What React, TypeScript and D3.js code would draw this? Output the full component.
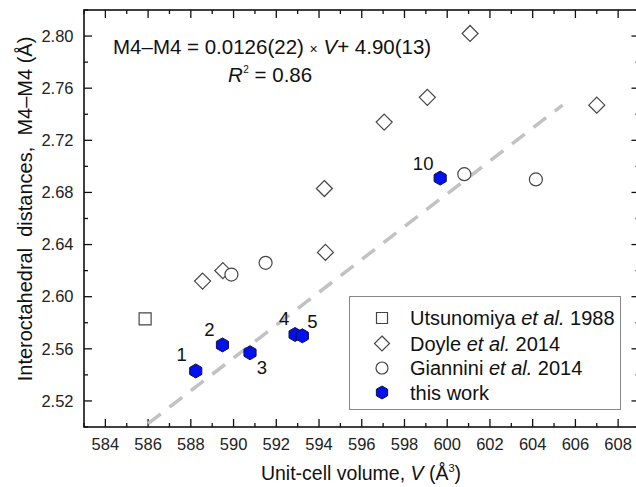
import React, { useEffect, useRef } from 'react';
import * as d3 from 'd3';

// data
const utsunomiyaV = [585.86];
const utsunomiyaD = [2.583];

const doyleV = [588.55, 589.5, 594.3, 594.25, 597.05, 599.07, 601.07, 607.0];
const doyleD = [2.612, 2.620, 2.634, 2.683, 2.734, 2.753, 2.802, 2.747];

const gianniniV = [589.9, 591.5, 600.8, 604.15];
const gianniniD = [2.617, 2.626, 2.694, 2.690];

const thisWorkV = [588.23, 589.48, 590.77, 592.88, 593.22, 599.67];
const thisWorkD = [2.543, 2.563, 2.557, 2.571, 2.570, 2.691];
const thisWorkLabels = ['1', '2', '3', '4', '5', '10'];
const labelOffsets = [[-14, -16], [-13, -15], [12, 15], [-11, -16], [10, -14], [-17, -15]];

// fitted line (dashed)
const fitSlope = 0.0126;
const fitIntercept = -4.881;
const fitRange = [586, 605.4];

const xTicks = d3.range(584, 609, 2);
const xMinor = d3.range(583, 610, 1);
const yTicks = [2.52, 2.56, 2.60, 2.64, 2.68, 2.72, 2.76, 2.80];
const yMinor = d3.range(2.50, 2.821, 0.02);

const FONT = '"Liberation Sans", Arial, sans-serif';

const App = () => {
  const svgRef = useRef(null);

  useEffect(() => {
    const svg = d3.select(svgRef.current);
    svg.selectAll('*').remove();

    const left = 84, right = 639.5, top = 10, bottom = 427;
    const x = d3.scaleLinear().domain([583, 609]).range([left, right]);
    const y = d3.scaleLinear().domain([2.5, 2.82]).range([bottom, top]);

    svg.append('rect')
      .attr('width', 636).attr('height', 487).attr('fill', '#fff');

    // ticks (inward, mirrored)
    const tickG = svg.append('g').attr('stroke', '#111').attr('stroke-width', 1.3);
    xMinor.forEach((v) => {
      const len = xTicks.includes(v) ? 8 : 4;
      tickG.append('line').attr('x1', x(v)).attr('x2', x(v)).attr('y1', bottom).attr('y2', bottom - len);
      tickG.append('line').attr('x1', x(v)).attr('x2', x(v)).attr('y1', top).attr('y2', top + len);
    });
    yMinor.forEach((v, i) => {
      const len = i % 2 === 1 ? 8 : 4;
      tickG.append('line').attr('y1', y(v)).attr('y2', y(v)).attr('x1', left).attr('x2', left + len);
      tickG.append('line').attr('y1', y(v)).attr('y2', y(v)).attr('x1', right).attr('x2', right - len);
    });

    // tick labels
    svg.append('g').selectAll('text').data(xTicks).enter().append('text')
      .attr('x', (d) => x(d)).attr('y', 449.5)
      .attr('text-anchor', 'middle')
      .attr('font-family', FONT).attr('font-size', 16.5).attr('fill', '#222')
      .text((d) => d);
    svg.append('g').selectAll('text').data(yTicks).enter().append('text')
      .attr('x', 73.5).attr('y', (d) => y(d)).attr('dy', '0.35em')
      .attr('text-anchor', 'end')
      .attr('font-family', FONT).attr('font-size', 16.5).attr('fill', '#222')
      .text((d) => d.toFixed(2));

    // fit line
    svg.append('line')
      .attr('x1', x(fitRange[0])).attr('y1', y(fitSlope * fitRange[0] + fitIntercept))
      .attr('x2', x(fitRange[1])).attr('y2', y(fitSlope * fitRange[1] + fitIntercept))
      .attr('stroke', '#c2c2c2').attr('stroke-width', 3.5)
      .attr('stroke-dasharray', '16,11');

    // symbols
    const square = (s) => `M${-s},${-s}H${s}V${s}H${-s}Z`;
    const diamond = (s) => `M0,${-s}L${s},0L0,${s}L${-s},0Z`;
    const hexagon = (r) => {
      const pts = d3.range(6).map((i) => {
        const a = Math.PI / 2 + (i * Math.PI) / 3;
        return [r * Math.cos(a), r * Math.sin(a)];
      });
      return 'M' + pts.map((p) => p.join(',')).join('L') + 'Z';
    };

    const points = svg.append('g');
    utsunomiyaV.forEach((v, i) => {
      points.append('path').attr('d', square(6))
        .attr('transform', `translate(${x(v)},${y(utsunomiyaD[i])})`)
        .attr('fill', '#fff').attr('stroke', '#444').attr('stroke-width', 1.2);
    });
    doyleV.forEach((v, i) => {
      points.append('path').attr('d', diamond(8))
        .attr('transform', `translate(${x(v)},${y(doyleD[i])})`)
        .attr('fill', '#fff').attr('stroke', '#444').attr('stroke-width', 1.2);
    });
    gianniniV.forEach((v, i) => {
      points.append('circle').attr('r', 6.5)
        .attr('cx', x(v)).attr('cy', y(gianniniD[i]))
        .attr('fill', '#fff').attr('stroke', '#444').attr('stroke-width', 1.2);
    });
    thisWorkV.forEach((v, i) => {
      points.append('path').attr('d', hexagon(7))
        .attr('transform', `translate(${x(v)},${y(thisWorkD[i])})`)
        .attr('fill', '#0010f0').attr('stroke', '#101040').attr('stroke-width', 1);
      points.append('text')
        .attr('x', x(v) + labelOffsets[i][0]).attr('y', y(thisWorkD[i]) + labelOffsets[i][1])
        .attr('dy', '0.35em').attr('text-anchor', 'middle')
        .attr('font-family', FONT).attr('font-size', 18.5).attr('fill', '#111')
        .text(thisWorkLabels[i]);
    });

    // frame
    svg.append('rect')
      .attr('x', left).attr('y', top).attr('width', right - left).attr('height', bottom - top)
      .attr('fill', 'none').attr('stroke', '#111').attr('stroke-width', 1.6);

    // equation
    const eq = svg.append('text')
      .attr('x', 113).attr('y', 54)
      .attr('font-family', FONT).attr('font-size', 20.5).attr('fill', '#111');
    eq.append('tspan').text('M4–M4 = 0.0126(22) ');
    eq.append('tspan').attr('font-size', 14).text('×');
    eq.append('tspan').text(' ');
    eq.append('tspan').attr('font-style', 'italic').text('V');
    eq.append('tspan').text('+ 4.90(13)');

    const r2 = svg.append('text')
      .attr('x', 228).attr('y', 82)
      .attr('font-family', FONT).attr('font-size', 20.5).attr('fill', '#111');
    r2.append('tspan').attr('font-style', 'italic').text('R');
    r2.append('tspan').attr('font-size', 10).attr('dx', 0.5).attr('dy', -9).text('2');
    r2.append('tspan').attr('dy', 9).text(' = 0.86');

    // legend
    const lg = svg.append('g');
    lg.append('rect')
      .attr('x', 349.5).attr('y', 296.5).attr('width', 271).attr('height', 113)
      .attr('fill', '#fff').attr('stroke', '#888').attr('stroke-width', 1);
    const rows = [318, 343.5, 368, 392.5];
    lg.append('path').attr('d', square(5.5)).attr('transform', `translate(382,${rows[0]})`)
      .attr('fill', '#fff').attr('stroke', '#444').attr('stroke-width', 1.2);
    lg.append('path').attr('d', diamond(7.5)).attr('transform', `translate(382,${rows[1]})`)
      .attr('fill', '#fff').attr('stroke', '#444').attr('stroke-width', 1.2);
    lg.append('circle').attr('r', 6).attr('cx', 382).attr('cy', rows[2])
      .attr('fill', '#fff').attr('stroke', '#444').attr('stroke-width', 1.2);
    lg.append('path').attr('d', hexagon(6.5)).attr('transform', `translate(382,${rows[3]})`)
      .attr('fill', '#0010f0').attr('stroke', '#101040').attr('stroke-width', 1);

    const legendItems = [
      ['Utsunomiya ', 'et al.', ' 1988'],
      ['Doyle ', 'et al.', ' 2014'],
      ['Giannini ', 'et al.', ' 2014'],
      ['this work', '', ''],
    ];
    legendItems.forEach((parts, i) => {
      const t = lg.append('text')
        .attr('x', 410).attr('y', rows[i]).attr('dy', '0.36em')
        .attr('font-family', FONT).attr('font-size', 20).attr('fill', '#111')
        .style('white-space', 'pre');
      t.append('tspan').text(parts[0]);
      if (parts[1]) t.append('tspan').attr('font-style', 'italic').text(parts[1]);
      if (parts[2]) t.append('tspan').text(parts[2]);
    });

    // axis titles
    const xt = svg.append('text')
      .attr('x', 361).attr('y', 480).attr('text-anchor', 'middle')
      .attr('font-family', FONT).attr('font-size', 19.5).attr('fill', '#111');
    xt.append('tspan').text('Unit-cell volume, ');
    xt.append('tspan').attr('font-style', 'italic').text('V');
    xt.append('tspan').text(' (Å');
    xt.append('tspan').attr('font-size', 11).attr('dy', -8).text('3');
    xt.append('tspan').attr('dy', 8).text(')');

    svg.append('text')
      .attr('transform', 'translate(32,209) rotate(-90)')
      .attr('text-anchor', 'middle')
      .attr('font-family', FONT).attr('font-size', 20).attr('fill', '#111')
      .style('white-space', 'pre')
      .text('Interoctahedral  distances,  M4–M4 (Å)');
  }, []);

  return (
    <svg
      ref={svgRef}
      width={636}
      height={487}
      style={{ position: 'absolute', left: 0, top: 0 }}
    ></svg>
  );
};

export default App;
